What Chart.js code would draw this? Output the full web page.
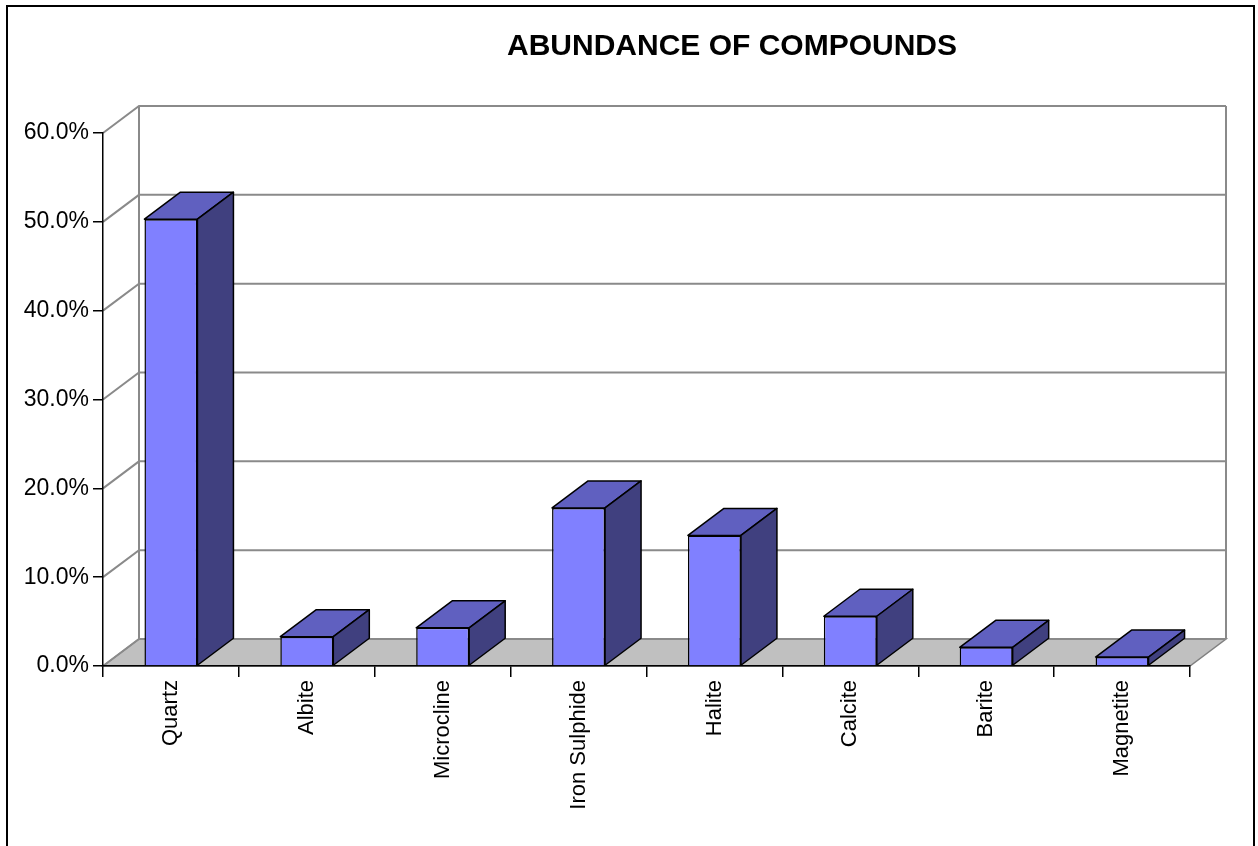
<!DOCTYPE html>
<html>
<head>
<meta charset="utf-8">
<script src="https://cdn.jsdelivr.net/npm/chart.js@4.4.1/dist/chart.umd.min.js"></script>
<style>
  html, body { margin: 0; padding: 0; background: #fff; }
  #wrap { width: 1258px; height: 846px; }
</style>
</head>
<body>
<div id="wrap"><canvas id="c" width="1258" height="846"></canvas></div>
<script>
const chartTitle = 'ABUNDANCE OF COMPOUNDS';
const categories = ['Quartz', 'Albite', 'Microcline', 'Iron Sulphide', 'Halite', 'Calcite', 'Barite', 'Magnetite'];
const abundance = [50.3, 3.3, 4.3, 17.8, 14.7, 5.6, 2.1, 1.0];
const yTickValues = [0, 10, 20, 30, 40, 50, 60];
const yTickLabels = ['0.0%', '10.0%', '20.0%', '30.0%', '40.0%', '50.0%', '60.0%'];

const DX = 36, DY = -27;
const FONT = '"Liberation Sans", Arial, sans-serif';

const wallsPlugin = {
  id: 'walls',
  beforeDraw(chart) {
    const { ctx, chartArea: { left, right, top, bottom }, scales: { y } } = chart;
    ctx.save();
    // outer frame
    ctx.strokeStyle = '#000';
    ctx.lineWidth = 2;
    ctx.beginPath();
    ctx.moveTo(7, 860); ctx.lineTo(7, 6); ctx.lineTo(1254, 6); ctx.lineTo(1254, 860);
    ctx.stroke();
    // floor
    ctx.fillStyle = '#C0C0C0';
    ctx.strokeStyle = '#808080';
    ctx.lineWidth = 1.5;
    ctx.beginPath();
    ctx.moveTo(left, bottom);
    ctx.lineTo(left + DX, bottom + DY);
    ctx.lineTo(right + DX, bottom + DY);
    ctx.lineTo(right, bottom);
    ctx.closePath();
    ctx.fill();
    ctx.stroke();
    // back wall grid + side wall diagonals
    ctx.strokeStyle = '#8a8a8a';
    ctx.lineWidth = 2;
    yTickValues.forEach(v => {
      const py = y.getPixelForValue(v);
      ctx.beginPath();
      ctx.moveTo(left, py);
      ctx.lineTo(left + DX, py + DY);
      ctx.lineTo(right + DX, py + DY);
      ctx.stroke();
    });
    const yTop = y.getPixelForValue(yTickValues[yTickValues.length - 1]);
    ctx.beginPath();
    ctx.moveTo(left + DX, yTop + DY); ctx.lineTo(left + DX, bottom + DY);
    ctx.moveTo(right + DX, yTop + DY); ctx.lineTo(right + DX, bottom + DY);
    ctx.stroke();
    // title
    ctx.fillStyle = '#000';
    ctx.font = 'bold 30px ' + FONT;
    ctx.textAlign = 'center';
    ctx.textBaseline = 'middle';
    ctx.fillText(chartTitle, 732, 47);
    ctx.restore();
  }
};

const bars3dPlugin = {
  id: 'bars3d',
  afterDatasetsDraw(chart) {
    const { ctx } = chart;
    const meta = chart.getDatasetMeta(0);
    ctx.save();
    ctx.strokeStyle = '#000';
    ctx.lineWidth = 1.5;
    ctx.lineJoin = 'round';
    meta.data.forEach(bar => {
      const { x, y, base, width } = bar.getProps(['x', 'y', 'base', 'width'], true);
      const l = x - width / 2, r = x + width / 2;
      // top face
      ctx.fillStyle = '#6060C0';
      ctx.beginPath();
      ctx.moveTo(l, y); ctx.lineTo(l + DX, y + DY); ctx.lineTo(r + DX, y + DY); ctx.lineTo(r, y);
      ctx.closePath(); ctx.fill(); ctx.stroke();
      // side face
      ctx.fillStyle = '#40407F';
      ctx.beginPath();
      ctx.moveTo(r, y); ctx.lineTo(r + DX, y + DY); ctx.lineTo(r + DX, base + DY); ctx.lineTo(r, base);
      ctx.closePath(); ctx.fill(); ctx.stroke();
    });
    ctx.restore();
  }
};

new Chart(document.getElementById('c'), {
  type: 'bar',
  data: {
    labels: categories,
    datasets: [{
      data: abundance,
      backgroundColor: '#8080FF',
      borderColor: '#000',
      borderWidth: 1.5,
      barPercentage: 0.39,
      categoryPercentage: 1.0,
      clip: false
    }]
  },
  options: {
    responsive: false,
    animation: false,
    devicePixelRatio: 1,
    layout: { padding: { left: 0, right: 68, top: 133, bottom: 0 } },
    plugins: { legend: { display: false }, title: { display: false }, tooltip: { enabled: false } },
    scales: {
      x: {
        grid: { display: true, drawOnChartArea: false, drawTicks: true, tickLength: 11, color: '#000', lineWidth: 1.5, offset: true },
        border: { display: true, color: '#000', width: 1.5 },
        ticks: { color: '#000', font: { family: FONT, size: 22 }, minRotation: 90, maxRotation: 90, padding: 3, autoSkip: false },
        afterFit(scale) { scale.height = 180; }
      },
      y: {
        min: 0, max: 60,
        afterBuildTicks(scale) { scale.ticks = yTickValues.map(v => ({ value: v })); },
        grid: { display: true, drawOnChartArea: false, drawTicks: true, tickLength: 10, color: '#000', lineWidth: 1.5 },
        border: { display: true, color: '#000', width: 1.5 },
        ticks: {
          color: '#000', font: { family: FONT, size: 23 }, padding: 4,
          callback: (v) => yTickLabels[yTickValues.indexOf(v)]
        },
        afterFit(scale) { scale.width = 103; }
      }
    }
  },
  plugins: [wallsPlugin, bars3dPlugin]
});
</script>
</body>
</html>
